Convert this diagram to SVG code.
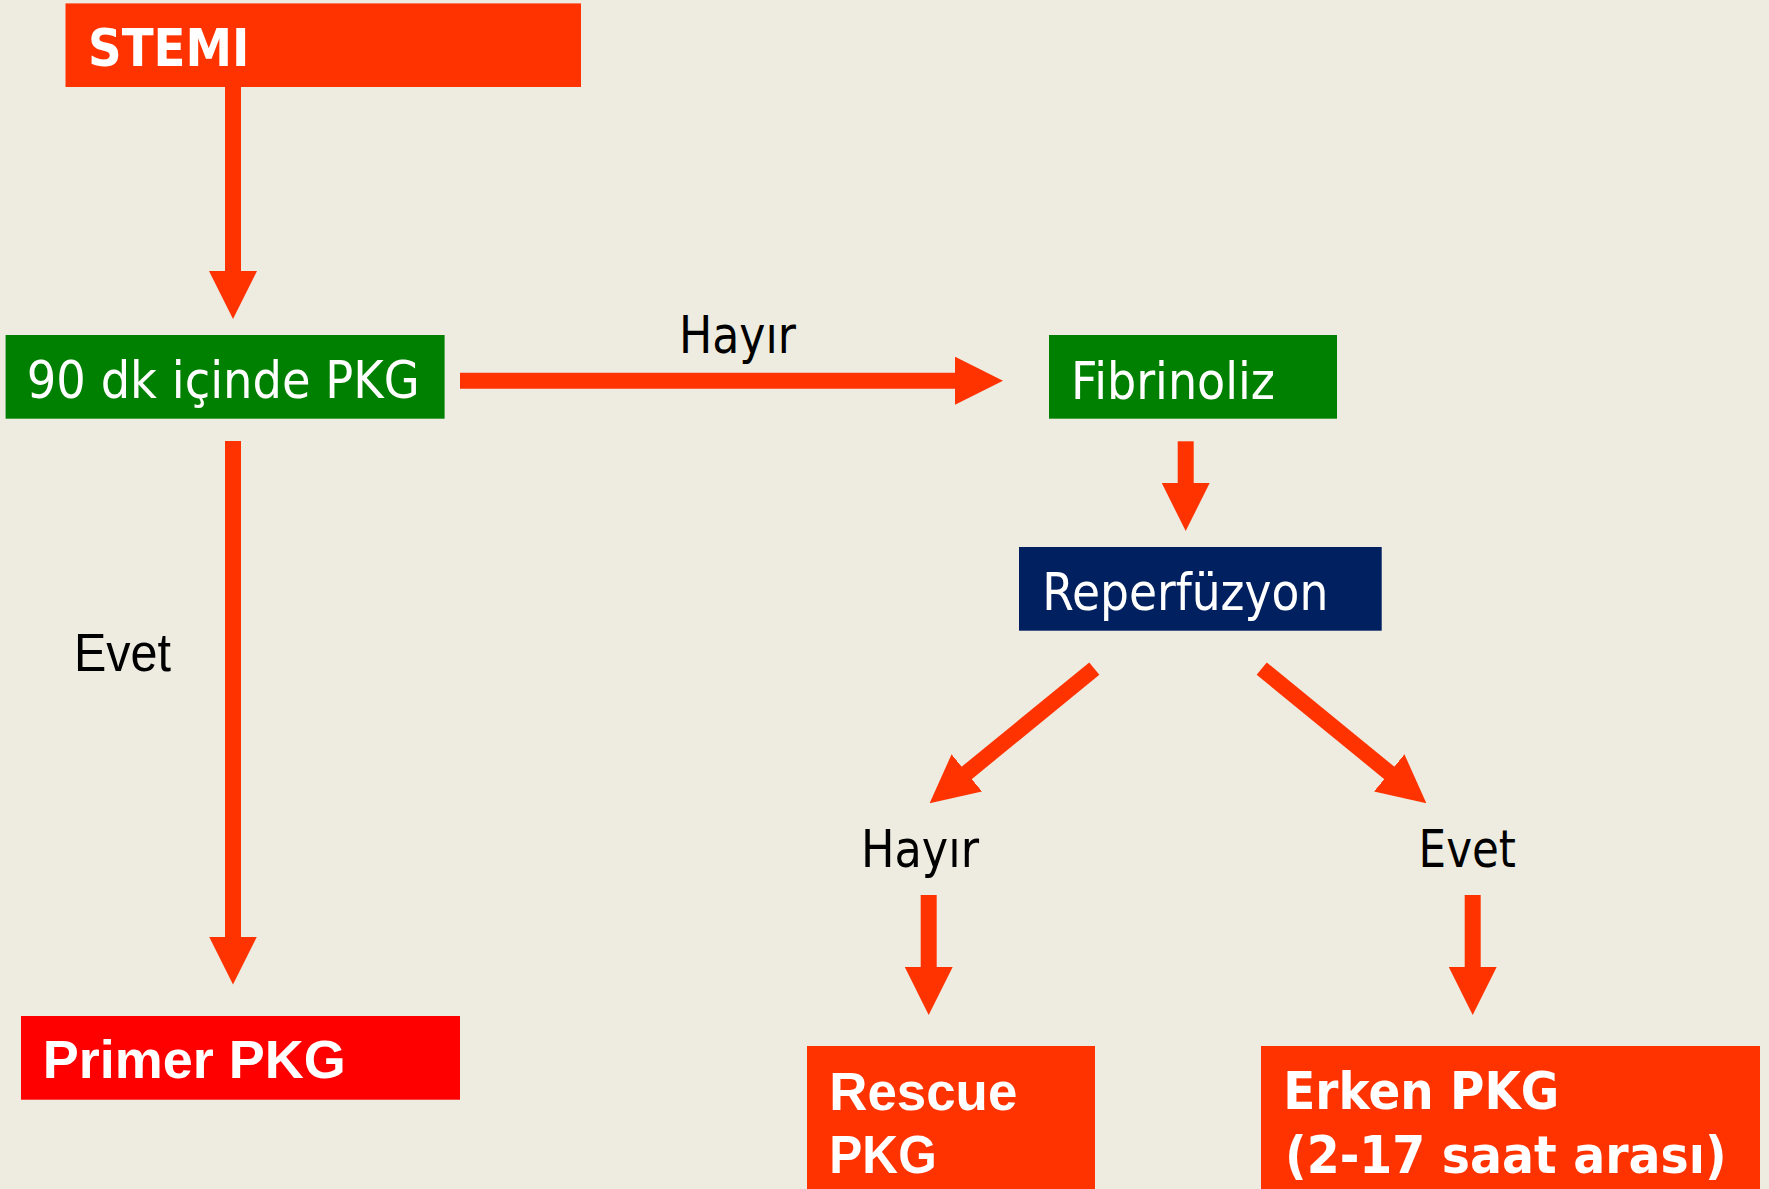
<svg xmlns="http://www.w3.org/2000/svg" width="1769" height="1189" viewBox="0 0 1769 1189">
  <style>
    .bg { fill: #EEECE1; }
    .orange { fill: #FF3300; }
    .red { fill: #FF0000; }
    .green { fill: #008000; }
    .navy { fill: #002060; }
    .t-bold { font-family: "DejaVu Sans", Verdana, sans-serif; font-weight: bold; font-size: 52px; fill: #FFFFFF; }
    .t-boldA { font-family: "Liberation Sans", Arial, sans-serif; font-weight: bold; font-size: 53px; fill: #FFFFFF; }
    .t-reg { font-family: "DejaVu Sans", Verdana, sans-serif; font-size: 52px; fill: #FFFFFF; }
    .lbl { font-family: "DejaVu Sans", Verdana, sans-serif; font-size: 52px; fill: #000000; }
    .lblA { font-family: "Liberation Sans", Arial, sans-serif; font-size: 53px; fill: #000000; }
    .arrow { stroke: #FF3300; stroke-width: 16; stroke-linecap: butt; fill: none; marker-end: url(#head); }
  </style>
  <defs>
    <marker id="head" markerUnits="userSpaceOnUse" markerWidth="48" markerHeight="48" viewBox="0 0 48 48" refX="1" refY="24" orient="auto">
      <path d="M0,0 L48,24 L0,48 Z" fill="#FF3300"/>
    </marker>
  </defs>

  <rect class="bg" x="0" y="0" width="1769" height="1189"/>

  <!-- connectors -->
  <g id="connectors">
    <line class="arrow" x1="233" y1="87" x2="233" y2="272"/>
    <line class="arrow" x1="233" y1="441" x2="233" y2="937.5"/>
    <line class="arrow" x1="460" y1="380.7" x2="956" y2="380.7"/>
    <line class="arrow" x1="1185.7" y1="441.3" x2="1185.7" y2="484"/>
    <line class="arrow" x1="1094.3" y1="668.6" x2="966" y2="773.5"/>
    <line class="arrow" x1="1261.7" y1="668.6" x2="1390" y2="773.5"/>
    <line class="arrow" x1="928.7" y1="895" x2="928.7" y2="968"/>
    <line class="arrow" x1="1472.7" y1="895" x2="1472.7" y2="968"/>

    <g id="edge-labels">
      <text class="lbl" x="679" y="352.7" textLength="117" lengthAdjust="spacingAndGlyphs">Hayır</text>
      <text class="lblA" x="74" y="670.5" textLength="97" lengthAdjust="spacingAndGlyphs">Evet</text>
      <text class="lbl" x="861" y="866.9" textLength="118" lengthAdjust="spacingAndGlyphs">Hayır</text>
      <text class="lbl" x="1418.6" y="866.9" textLength="97.4" lengthAdjust="spacingAndGlyphs">Evet</text>
    </g>
  </g>

  <!-- nodes -->
  <g id="stemi">
    <rect class="orange" x="65.5" y="3.4" width="515.5" height="83.6"/>
    <text class="t-bold" x="88" y="66" font-size="53" textLength="161.5" lengthAdjust="spacingAndGlyphs">STEMI</text>
  </g>

  <g id="pkg90">
    <rect class="green" x="5.6" y="335" width="439" height="83.7"/>
    <text class="t-reg" x="26.8" y="398.3" textLength="393" lengthAdjust="spacingAndGlyphs">90 dk içinde PKG</text>
  </g>

  <g id="fibrinoliz">
    <rect class="green" x="1049" y="335" width="288" height="83.7"/>
    <text class="t-reg" x="1071" y="398.7" textLength="204" lengthAdjust="spacingAndGlyphs">Fibrinoliz</text>
  </g>

  <g id="reperfuzyon">
    <rect class="navy" x="1019" y="547" width="362.7" height="83.7"/>
    <text class="t-reg" x="1042.3" y="610" textLength="286" lengthAdjust="spacingAndGlyphs">Reperfüzyon</text>
  </g>

  <g id="primer-pkg">
    <rect class="red" x="21" y="1016" width="439" height="83.7"/>
    <text class="t-boldA" x="42.7" y="1078.3" font-size="52" textLength="303" lengthAdjust="spacingAndGlyphs">Primer PKG</text>
  </g>

  <g id="rescue-pkg">
    <rect class="orange" x="807" y="1046" width="288" height="150"/>
    <text class="t-boldA" x="829.3" y="1110" font-size="54" textLength="188" lengthAdjust="spacingAndGlyphs">Rescue</text>
    <text class="t-boldA" x="829.3" y="1173.3" font-size="54" textLength="107.4" lengthAdjust="spacingAndGlyphs">PKG</text>
  </g>

  <g id="erken-pkg">
    <rect class="orange" x="1261" y="1046" width="499" height="150"/>
    <text class="t-bold" x="1283.3" y="1109.3" textLength="276" lengthAdjust="spacingAndGlyphs">Erken PKG</text>
    <text class="t-bold" x="1285" y="1173.3" textLength="441.7" lengthAdjust="spacingAndGlyphs">(2-17 saat arası)</text>
  </g>
</svg>
